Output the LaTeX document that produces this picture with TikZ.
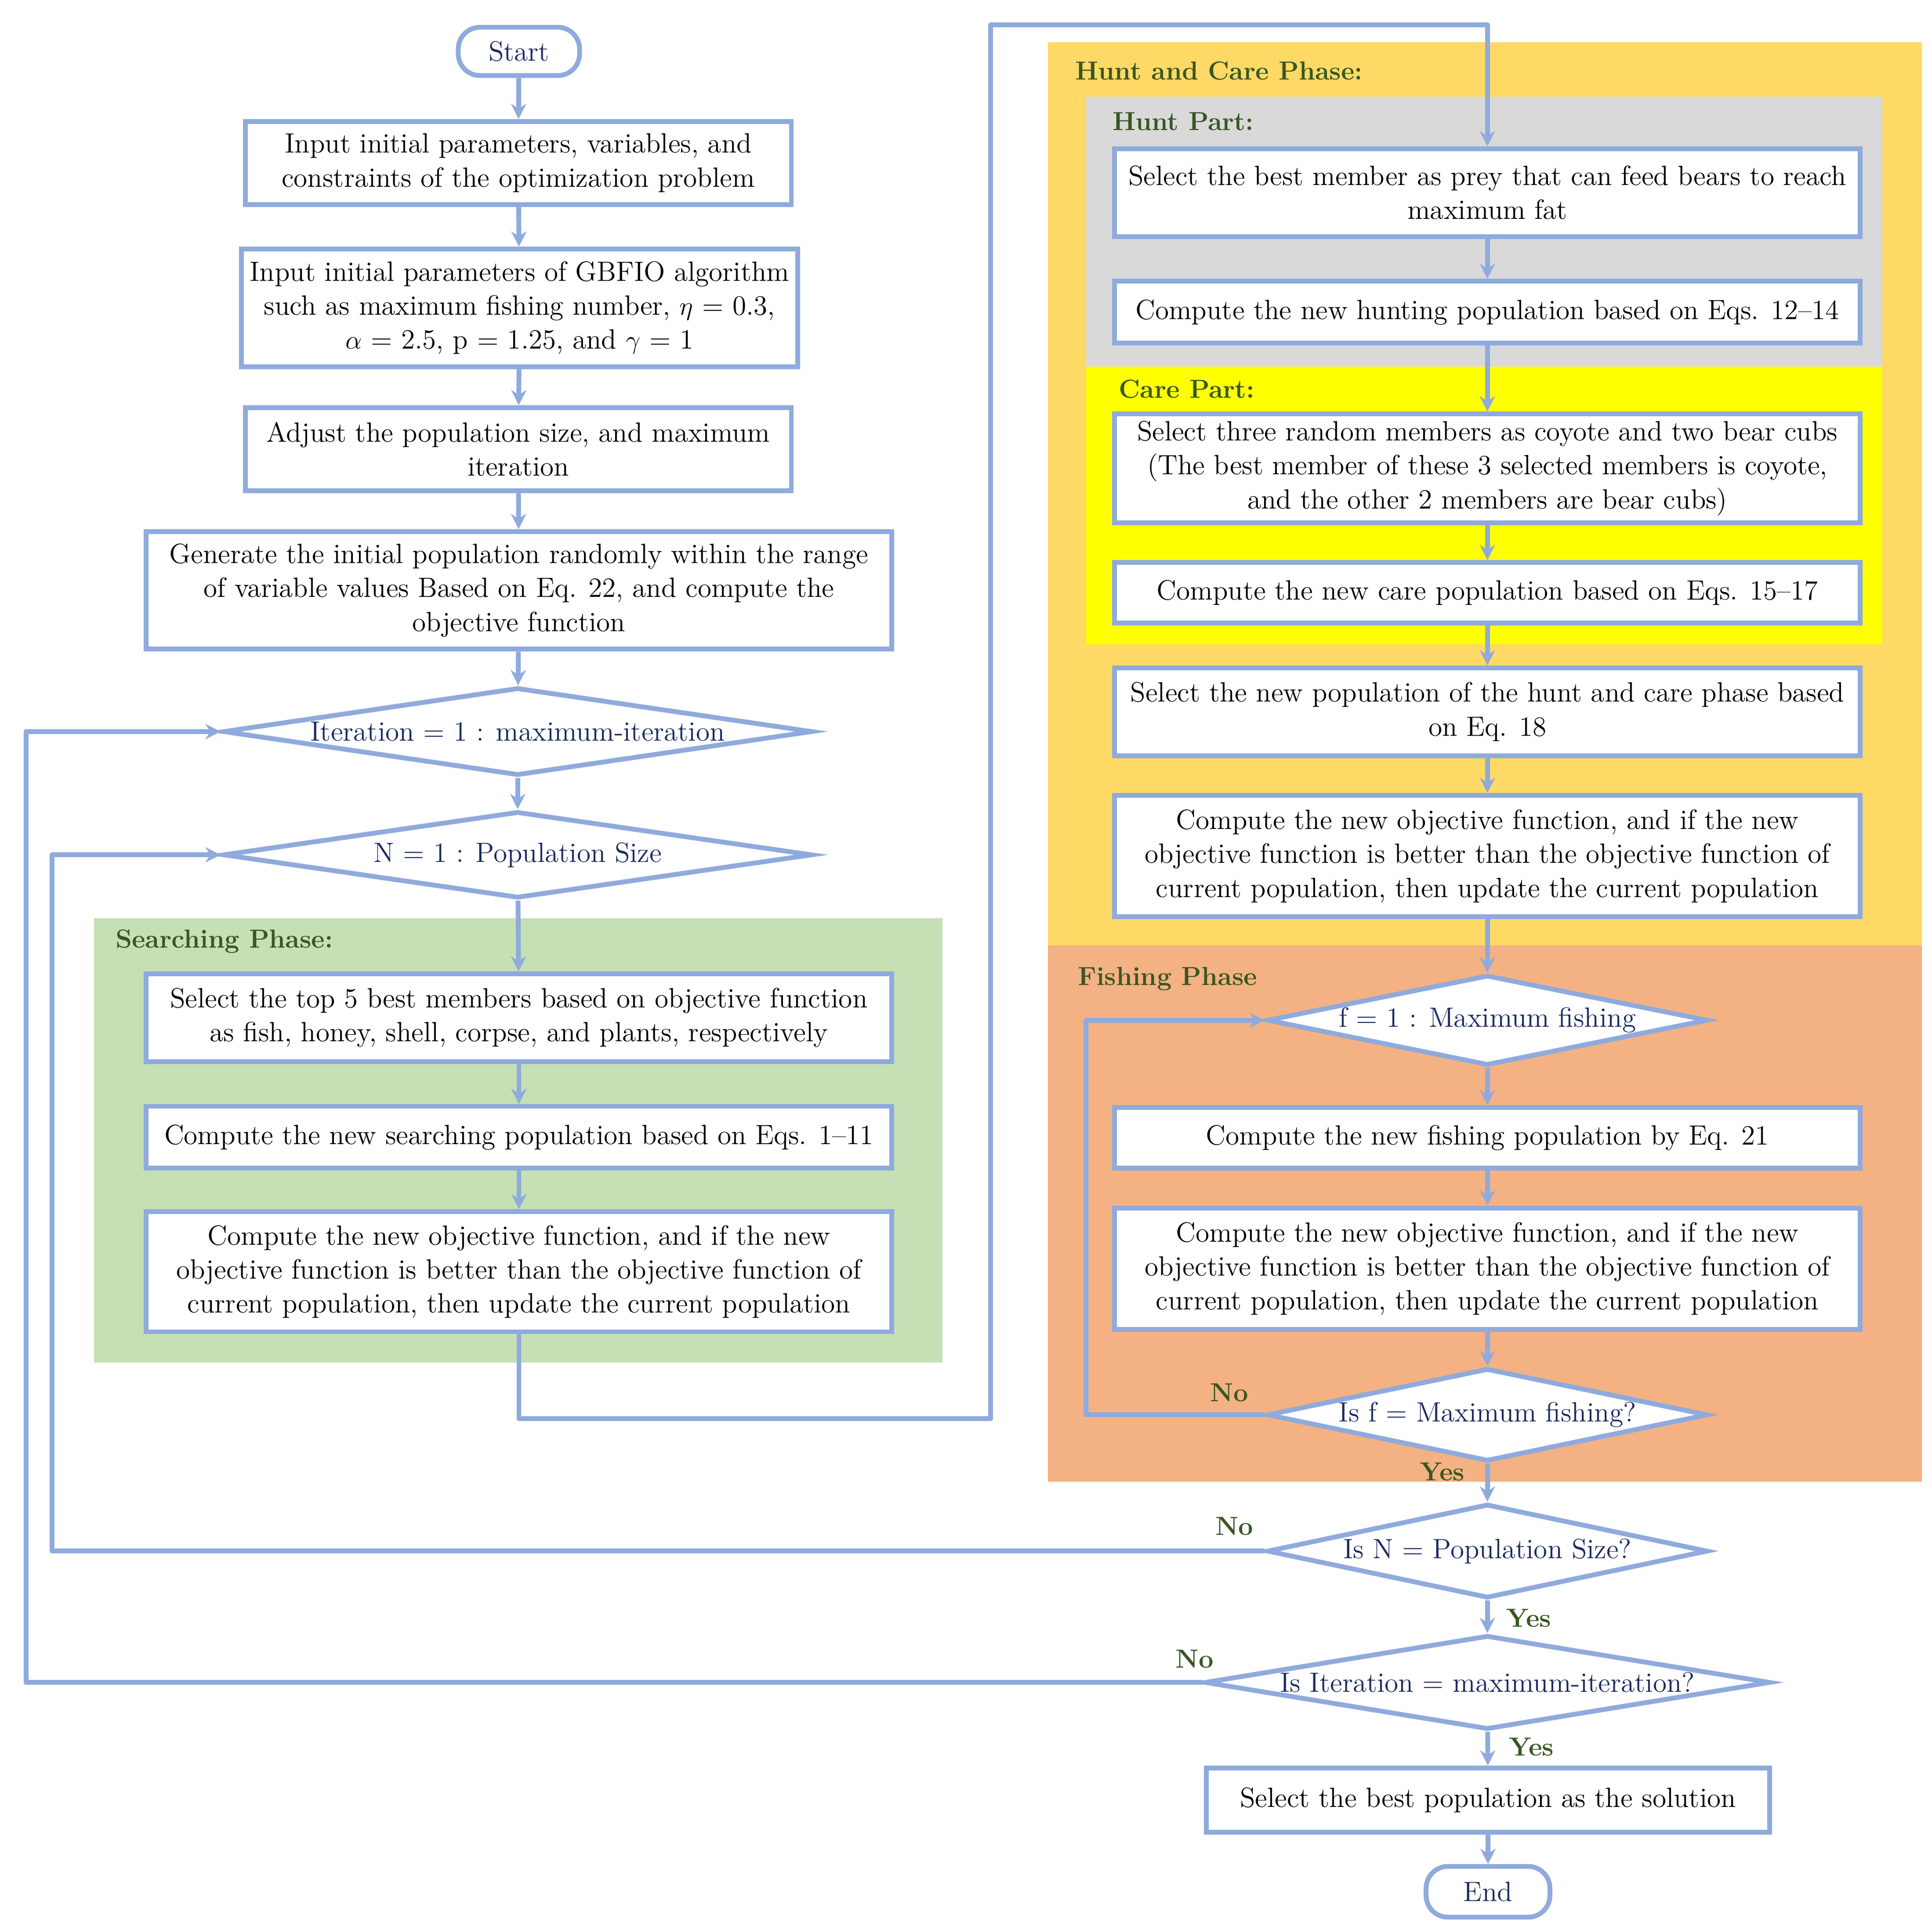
\documentclass[tikz,border=0pt]{standalone}
\usepackage{tikz}
\usepackage{xcolor}
\usetikzlibrary{shapes.geometric,arrows.meta}

\definecolor{lineblue}{HTML}{8FAADC}
\definecolor{navytext}{HTML}{1A2A60}
\definecolor{labelgreen}{HTML}{385723}
\definecolor{searchgreen}{HTML}{C5E0B4}
\definecolor{huntgold}{HTML}{FFD966}
\definecolor{huntgray}{HTML}{D9D9D9}
\definecolor{careyellow}{HTML}{FFFF00}
\definecolor{fishorange}{HTML}{F4B183}

\begin{document}
\begin{tikzpicture}[x=0.02cm,y=-0.02cm]
                        \tikzset{Box/.style={%
                                shape=rectangle,%
                                draw=lineblue,%
                                fill=white,%
                                line width=2.2pt,%
                                align=center,%
                                inner sep=0pt,%
                                font=\fontsize{12.8}{15.6}\selectfont,%
                            },
                            Terminal/.style={Box, rounded corners=10pt, text=navytext},%
                            Decision/.style={Box, shape=diamond, inner xsep=-1.6cm, text=navytext},%
                            Phase/.style={%
                                anchor=west,%
                                inner sep=0pt,%
                                text=labelgreen,%
                                font=\fontsize{12}{15.6}\selectfont\bfseries,%
                            },
                            Arrow/.style={%
                                draw=lineblue,%
                                line width=2.2pt,%
                                line join=round,%
                                -{Stealth[length=7pt,width=7pt]},%
                            }}

                            \useasboundingbox (0,0) rectangle (1560,1552);

                            % phase backgrounds
                            \fill[searchgreen] (76,741) rectangle (761,1100);
                            \fill[huntgold] (846,34) rectangle (1552,763);
                            \fill[huntgray] (877,78) rectangle (1520,296);
                            \fill[careyellow] (877,296) rectangle (1520,520);
                            \fill[fishorange] (846,763) rectangle (1552,1196);

                            \node[Phase] (search) at (93,760) {Searching Phase:};
                            \node[Phase] (huntcare) at (868,57) {Hunt and Care Phase:};
                            \node[Phase] (hunt) at (898,98) {Hunt Part:};
                            \node[Phase] (care) at (903,314) {Care Part:};
                            \node[Phase] (fish) at (870,790) {Fishing Phase};

                            % left column
                            \node[Terminal, minimum width=1.96cm, minimum height=0.78cm] (1) at (419,41.5) {Start};
                            \node[Box, minimum width=8.82cm, minimum height=1.34cm] (2) at (418.5,131.5) {Input initial parameters, variables, and\\constraints of the optimization problem};
                            \node[Box, minimum width=8.98cm, minimum height=1.90cm] (3) at (419.5,248.5) {Input initial parameters of GBFIO algorithm\\such as maximum fishing number, $\eta$ = 0.3,\\$\alpha$ = 2.5, p = 1.25, and $\gamma$ = 1};
                            \node[Box, minimum width=8.82cm, minimum height=1.34cm] (4) at (418.5,362.5) {Adjust the population size, and maximum\\iteration};
                            \node[Box, minimum width=12.04cm, minimum height=1.90cm] (5) at (419,476.5) {Generate the initial population randomly within the range\\of variable values Based on Eq. 22, and compute the\\objective function};
                            \node[Decision, aspect=6.7, minimum width=9.52cm, minimum height=1.42cm] (6) at (418,590.5) {Iteration = 1 : maximum-iteration};
                            \node[Decision, aspect=6.7, minimum width=9.52cm, minimum height=1.40cm] (7) at (418,690) {N = 1 : Population Size};
                            \node[Box, minimum width=12.04cm, minimum height=1.42cm] (8) at (419,821.5) {Select the top 5 best members based on objective function\\as fish, honey, shell, corpse, and plants, respectively};
                            \node[Box, minimum width=12.04cm, minimum height=1.00cm] (9) at (419,918) {Compute the new searching population based on Eqs. 1--11};
                            \node[Box, minimum width=12.04cm, minimum height=1.94cm] (10) at (419,1026.5) {Compute the new objective function, and if the new\\objective function is better than the objective function of\\current population, then update the current population};

                            % right column
                            \node[Box, minimum width=12.04cm, minimum height=1.42cm] (11) at (1201,155.5) {Select the best member as prey that can feed bears to reach\\maximum fat};
                            \node[Box, minimum width=12.04cm, minimum height=1.00cm] (12) at (1201,252) {Compute the new hunting population based on Eqs. 12--14};
                            \node[Box, minimum width=12.04cm, minimum height=1.76cm] (13) at (1201,378) {Select three random members as coyote and two bear cubs\\(The best member of these 3 selected members is coyote,\\and the other 2 members are bear cubs)};
                            \node[Box, minimum width=12.04cm, minimum height=0.98cm] (14) at (1201,478.5) {Compute the new care population based on Eqs. 15--17};
                            \node[Box, minimum width=12.04cm, minimum height=1.42cm] (15) at (1201,574.5) {Select the new population of the hunt and care phase based\\on Eq. 18};
                            \node[Box, minimum width=12.04cm, minimum height=1.96cm] (16) at (1201,691) {Compute the new objective function, and if the new\\objective function is better than the objective function of\\current population, then update the current population};
                            \node[Decision, aspect=4.9, minimum width=7.12cm, minimum height=1.46cm] (17) at (1201,823.5) {f = 1 : Maximum fishing};
                            \node[Box, minimum width=12.04cm, minimum height=0.98cm] (18) at (1201,918.5) {Compute the new fishing population by Eq. 21};
                            \node[Box, minimum width=12.04cm, minimum height=1.96cm] (19) at (1201,1024) {Compute the new objective function, and if the new\\objective function is better than the objective function of\\current population, then update the current population};
                            \node[Decision, aspect=4.7, minimum width=7.12cm, minimum height=1.50cm] (20) at (1201,1142) {Is f = Maximum fishing?};
                            \node[Decision, aspect=4.7, minimum width=7.12cm, minimum height=1.52cm] (21) at (1201,1252) {Is N = Population Size?};
                            \node[Decision, aspect=6, minimum width=9.14cm, minimum height=1.52cm] (22) at (1201,1358) {Is Iteration = maximum-iteration?};
                            \node[Box, minimum width=9.10cm, minimum height=1.04cm] (23) at (1201.5,1453) {Select the best population as the solution};
                            \node[Terminal, minimum width=2.00cm, minimum height=0.82cm] (24) at (1201.5,1527) {End};

                            % yes / no labels
                            \node[Phase] (no1) at (977,1124) {No};
                            \node[Phase] (yes1) at (1146,1188) {Yes};
                            \node[Phase] (no2) at (981,1232) {No};
                            \node[Phase] (yes2) at (1216,1306) {Yes};
                            \node[Phase] (no3) at (949,1339) {No};
                            \node[Phase] (yes3) at (1218,1410) {Yes};

                            % corners of the connectors
                            \coordinate (bendA) at (419,1145);
                            \coordinate (bendB) at (800,20);
                            \coordinate (loopF) at (877,0);
                            \coordinate (loopN) at (42,0);
                            \coordinate (loopI) at (21,0);

                            \path (1) edge[Arrow] (2);
                            \path (2) edge[Arrow] (3);
                            \path (3) edge[Arrow] (4);
                            \path (4) edge[Arrow] (5);
                            \path (5) edge[Arrow] (6);
                            \path (6) edge[Arrow] (7);
                            \path (7) edge[Arrow] (8);
                            \path (8) edge[Arrow] (9);
                            \path (9) edge[Arrow] (10);
                            \draw[Arrow] (10.south) -- (bendA) -| (bendB) -| (11.north);
                            \path (11) edge[Arrow] (12);
                            \path (12) edge[Arrow] (13);
                            \path (13) edge[Arrow] (14);
                            \path (14) edge[Arrow] (15);
                            \path (15) edge[Arrow] (16);
                            \path (16) edge[Arrow] (17);
                            \path (17) edge[Arrow] (18);
                            \path (18) edge[Arrow] (19);
                            \path (19) edge[Arrow] (20);
                            \path (20) edge[Arrow] (21);
                            \path (21) edge[Arrow] (22);
                            \path (22) edge[Arrow] (23);
                            \path (23) edge[Arrow] (24);
                            \draw[Arrow] (20.west) -- (20.west -| loopF) |- (17.west);
                            \draw[Arrow] (21.west) -- (21.west -| loopN) |- (7.west);
                            \draw[Arrow] (22.west) -- (22.west -| loopI) |- (6.west);
                    \end{tikzpicture}
\end{document}
